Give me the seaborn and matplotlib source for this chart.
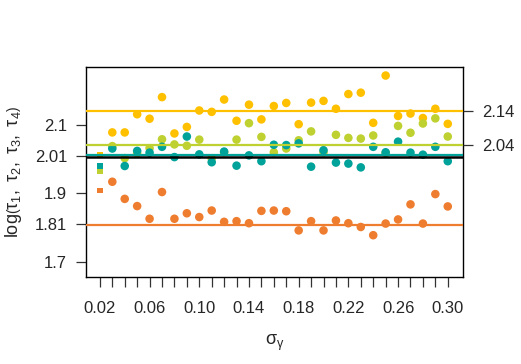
import matplotlib
matplotlib.use("Agg")
import matplotlib.pyplot as plt
import seaborn as sns
import numpy as np
import pandas as pd

# ============================
# DADOS
# ============================
sigma = [0.02, 0.03, 0.04, 0.05, 0.06, 0.07, 0.08, 0.09, 0.10, 0.11,
         0.12, 0.13, 0.14, 0.15, 0.16, 0.17, 0.18, 0.19, 0.20, 0.21,
         0.22, 0.23, 0.24, 0.25, 0.26, 0.27, 0.28, 0.29, 0.30]

tau1 = [2.013, 2.078, 2.078, 2.131, 2.118, 2.181, 2.075, 2.094, 2.142, 2.138,
        2.174, 2.112, 2.159, 2.116, 2.155, 2.164, 2.102, 2.165, 2.170, 2.147,
        2.190, 2.194, 2.106, 2.244, 2.126, 2.133, 2.120, 2.147, 2.103]
tau2 = [1.964, 2.038, 2.003, 2.017, 2.032, 2.058, 2.043, 2.039, 2.057, 2.002,
        2.020, 2.057, 2.105, 2.065, 2.020, 2.031, 2.055, 2.081, 2.020, 2.071,
        2.062, 2.060, 2.069, 2.018, 2.097, 2.077, 2.104, 2.119, 2.066]
tau3 = [1.980, 2.031, 1.980, 2.024, 2.019, 2.036, 2.006, 2.066, 2.014, 1.991,
        2.022, 1.981, 2.011, 1.994, 2.042, 2.041, 2.046, 1.978, 2.026, 1.990,
        1.987, 1.976, 2.036, 2.020, 2.051, 2.019, 2.013, 2.036, 1.994]
tau4 = [1.908, 1.934, 1.884, 1.863, 1.826, 1.904, 1.826, 1.842, 1.831, 1.850,
        1.817, 1.819, 1.813, 1.849, 1.850, 1.848, 1.792, 1.819, 1.792, 1.821,
        1.813, 1.802, 1.778, 1.812, 1.824, 1.868, 1.812, 1.898, 1.862]

series = ["tau4", "tau1", "tau2", "tau3"]
cores = {"tau1": "#FFC000", "tau2": "#BFD131", "tau3": "#00A29A", "tau4": "#EF7D2F"}

# linhas de referência (valor, cor)
ref_linhas = [(2.14, "#FFC000"), (2.04, "#BFD131"), (2.0135, "#00A29A"),
              (2.006, "black"), (1.807, "#EF7D2F")]
ticks_esq = [1.7, 1.81, 1.9, 2.01, 2.1]
ticks_dir = [2.04, 2.14]

df = pd.DataFrame({"sigma": sigma, "tau1": tau1, "tau2": tau2,
                   "tau3": tau3, "tau4": tau4})
df_long = df.melt(id_vars="sigma", var_name="serie", value_name="valor")

# ============================
# GRÁFICO
# ============================
sns.set_style("white")
plt.rcParams["font.family"] = ["Liberation Sans", "DejaVu Sans"]
plt.rcParams["mathtext.fontset"] = "custom"
plt.rcParams["mathtext.rm"] = "Liberation Sans"
plt.rcParams["mathtext.it"] = "Liberation Sans"

fig = plt.figure(figsize=(5.21, 3.64), dpi=100)
ax = fig.add_axes([0.165, 0.239, 0.724, 0.577])

primeiro = df_long[df_long["sigma"] == sigma[0]]
resto = df_long[df_long["sigma"] != sigma[0]]

sns.scatterplot(data=resto, x="sigma", y="valor", hue="serie",
                hue_order=series, palette=cores, s=38, linewidth=0,
                marker="o", legend=False, ax=ax, zorder=3)
sns.scatterplot(data=primeiro, x="sigma", y="valor", hue="serie",
                hue_order=series, palette=cores, s=16, linewidth=0,
                marker="s", legend=False, ax=ax, zorder=3)

for valor, cor in ref_linhas:
    ax.axhline(valor, color=cor, lw=1.6 if cor != "black" else 1.8, zorder=4)

ax.set_xlim(0.0088, 0.3124)
ax.set_ylim(1.656, 2.269)

ax.set_xticks(sigma)
ax.set_xticklabels([f"{s:.2f}" if i % 4 == 0 else "" for i, s in enumerate(sigma)])
ax.set_yticks(ticks_esq)
ax.set_yticklabels([f"{t:g}" for t in ticks_esq])
ax.tick_params(axis="both", which="major", length=7.5, width=0.9,
               direction="out", labelsize=12, color="#333333",
               bottom=True, left=True)
ax.tick_params(axis="x", pad=10)
ax.tick_params(axis="y", pad=6)

for sp in ax.spines.values():
    sp.set_color("black")
    sp.set_linewidth(1.0)

ax.set_xlabel(r"$\mathrm{σ_{γ}}$", fontsize=13, labelpad=12)
ax.set_ylabel(r"log$\left(\mathrm{τ_1,\ τ_2,\ τ_3,\ τ_4}\right)$", fontsize=13, labelpad=8)

ax2 = ax.twinx()
ax2.set_ylim(ax.get_ylim())
ax2.set_yticks(ticks_dir)
ax2.set_yticklabels([f"{t:g}" for t in ticks_dir])
ax2.tick_params(axis="y", length=7.5, width=0.9, direction="out",
                labelsize=12, pad=6, color="#333333", right=True)
for sp in ax2.spines.values():
    sp.set_visible(False)

fig.savefig("out.png", dpi=100)
